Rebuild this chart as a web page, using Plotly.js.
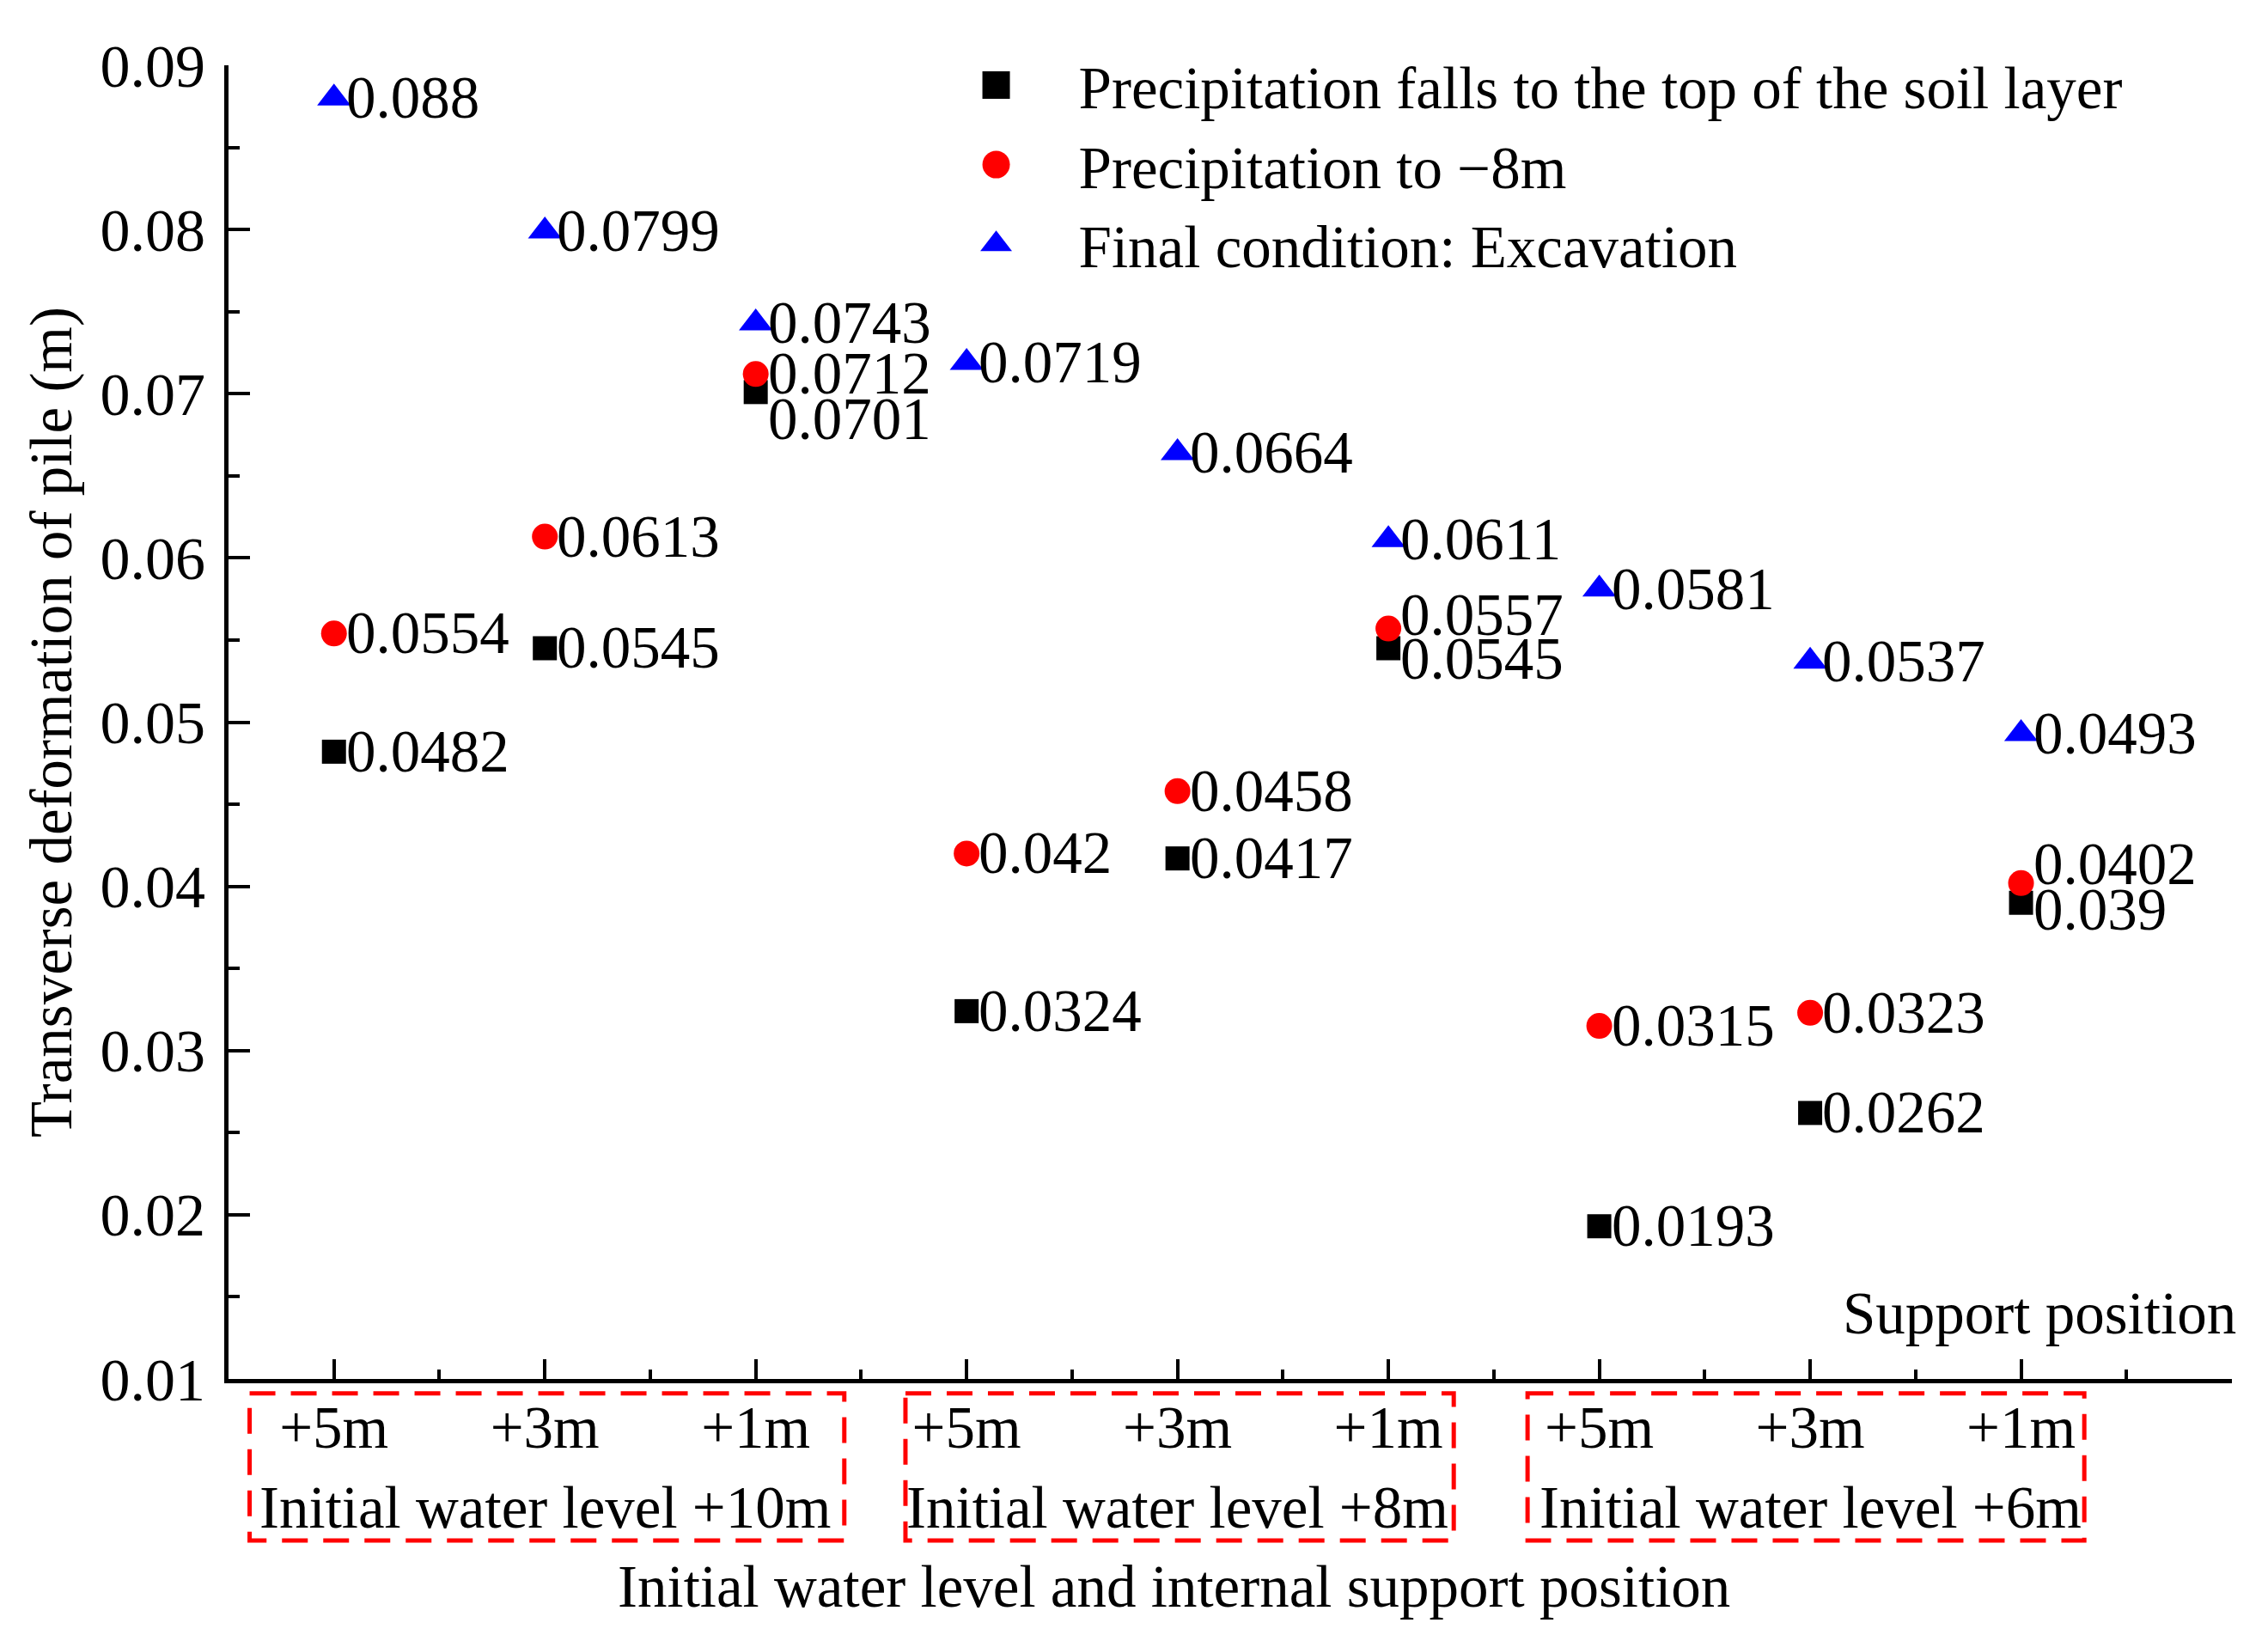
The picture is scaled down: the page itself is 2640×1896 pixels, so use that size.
<!DOCTYPE html>
<html>
<head>
<meta charset="utf-8">
<script src="https://cdn.plot.ly/plotly-3.0.1.min.js"></script>
<style>html,body{margin:0;padding:0;background:#fff;}#chart{width:2640px;height:1896px;}</style>
</head>
<body>
<div id="chart"></div>
<script>
// ---- data ----
var positions = [1, 2, 3, 4, 5, 6, 7, 8, 9];
var supportLabels = ['+5m', '+3m', '+1m', '+5m', '+3m', '+1m', '+5m', '+3m', '+1m'];
var groupLabels = ['Initial water level +10m', 'Initial water level +8m', 'Initial water level +6m'];
var groupCenters = [2, 5, 8];
var seriesNames = ['Precipitation falls to the top of the soil layer', 'Precipitation to \u22128m', 'Final condition: Excavation'];
var topSoil = [0.0482, 0.0545, 0.0701, 0.0324, 0.0417, 0.0545, 0.0193, 0.0262, 0.039];
var minus8 = [0.0554, 0.0613, 0.0712, 0.042, 0.0458, 0.0557, 0.0315, 0.0323, 0.0402];
var excavation = [0.088, 0.0799, 0.0743, 0.0719, 0.0664, 0.0611, 0.0581, 0.0537, 0.0493];

// ---- styling ----
var FONT = '"Liberation Serif", "Times New Roman", serif';
var FS = 69;
var colors = ['#000000', '#ff0000', '#0000ff'];
var symbols = ['square', 'circle', 'triangle-up'];
var sizes = [28, 30, 34];
var allSeries = [topSoil, minus8, excavation];
// vertical label nudges (px) for crowded points: [series]-[index]
var labelShift = {'0-2': -32, '0-5': -13, '1-5': 16, '1-8': 22, '0-8': -8};

var traces = allSeries.map(function (vals, s) {
  return {
    x: positions, y: vals, type: 'scatter', mode: 'markers', name: seriesNames[s],
    marker: {symbol: symbols[s], size: sizes[s], color: colors[s], line: {width: 0}},
    cliponaxis: false
  };
});

var annotations = [];
allSeries.forEach(function (vals, s) {
  vals.forEach(function (v, i) {
    annotations.push({
      x: positions[i], y: v, xref: 'x', yref: 'y', text: String(v), showarrow: false,
      xanchor: 'left', yanchor: 'middle', xshift: 12, yshift: labelShift[s + '-' + i] || 0,
      font: {family: FONT, size: FS, color: '#000'}
    });
  });
});
groupLabels.forEach(function (g, k) {
  annotations.push({
    x: groupCenters[k], y: -0.098, xref: 'x', yref: 'paper', text: g, showarrow: false,
    xanchor: 'center', yanchor: 'middle', font: {family: FONT, size: FS, color: '#000'}
  });
});
annotations.push({
  x: 0.472, y: -0.158, xref: 'paper', yref: 'paper', text: 'Initial water level and internal support position',
  showarrow: false, xanchor: 'center', yanchor: 'middle', font: {family: FONT, size: FS, color: '#000'}
});
annotations.push({
  x: 1.003, y: 0.05, xref: 'paper', yref: 'paper', text: 'Support position',
  showarrow: false, xanchor: 'right', yanchor: 'middle', font: {family: FONT, size: FS, color: '#000'}
});

var boxes = [[0.6, 3.42], [3.71, 6.31], [6.66, 9.30]];
var shapes = boxes.map(function (b) {
  return {
    type: 'rect', xref: 'x', yref: 'paper', x0: b[0], x1: b[1], y0: -0.011, y1: -0.123,
    line: {color: '#ff0000', width: 5, dash: '30px,18px'}, fillcolor: 'rgba(0,0,0,0)'
  };
});

var layout = {
  width: 2640, height: 1896,
  margin: {l: 266, r: 42, t: 76, b: 291},
  paper_bgcolor: '#fff', plot_bgcolor: '#fff',
  font: {family: FONT, size: FS, color: '#000'},
  showlegend: true,
  legend: {x: 0.342, y: 1.0186, xanchor: 'left', yanchor: 'top', bgcolor: 'rgba(0,0,0,0)',
           font: {family: FONT, size: FS, color: '#000'}, itemwidth: 182, tracegroupgap: 0},
  xaxis: {
    range: [0.5, 10], tickmode: 'array', tickvals: positions.concat([10]), ticktext: supportLabels.concat(['']),
    ticks: 'inside', ticklen: 23, tickwidth: 4, tickcolor: '#000',
    showline: true, linewidth: 5, linecolor: '#000', showgrid: false, zeroline: false,
    tickfont: {family: FONT, size: FS, color: '#000'}, ticklabelstandoff: -8,
    minor: {tick0: 0.5, dtick: 1, ticks: 'inside', ticklen: 11, tickwidth: 4, tickcolor: '#000', showgrid: false}
  },
  yaxis: {
    range: [0.01, 0.09], dtick: 0.01, tick0: 0.01,
    ticks: 'inside', ticklen: 25, tickwidth: 4, tickcolor: '#000',
    showline: true, linewidth: 5, linecolor: '#000', showgrid: false, zeroline: false,
    tickfont: {family: FONT, size: 70, color: '#000'}, ticklabelstandoff: 8,
    minor: {tick0: 0.005, dtick: 0.01, ticks: 'inside', ticklen: 13, tickwidth: 4, tickcolor: '#000', showgrid: false},
    title: {text: 'Transverse deformation of pile (m)', font: {family: FONT, size: FS, color: '#000'}, standoff: 12}
  },
  annotations: annotations,
  shapes: shapes
};

Plotly.newPlot('chart', traces, layout, {staticPlot: true, displayModeBar: false}).then(function (gd) {
  // enlarge legend symbols to match the plotted marker size
  var pts = gd.querySelectorAll('.legend .legendpoints path');
  pts.forEach(function (p) {
    var t = p.getAttribute('transform') || '';
    p.setAttribute('transform', t + ' scale(2)');
  });
});
</script>
</body>
</html>
